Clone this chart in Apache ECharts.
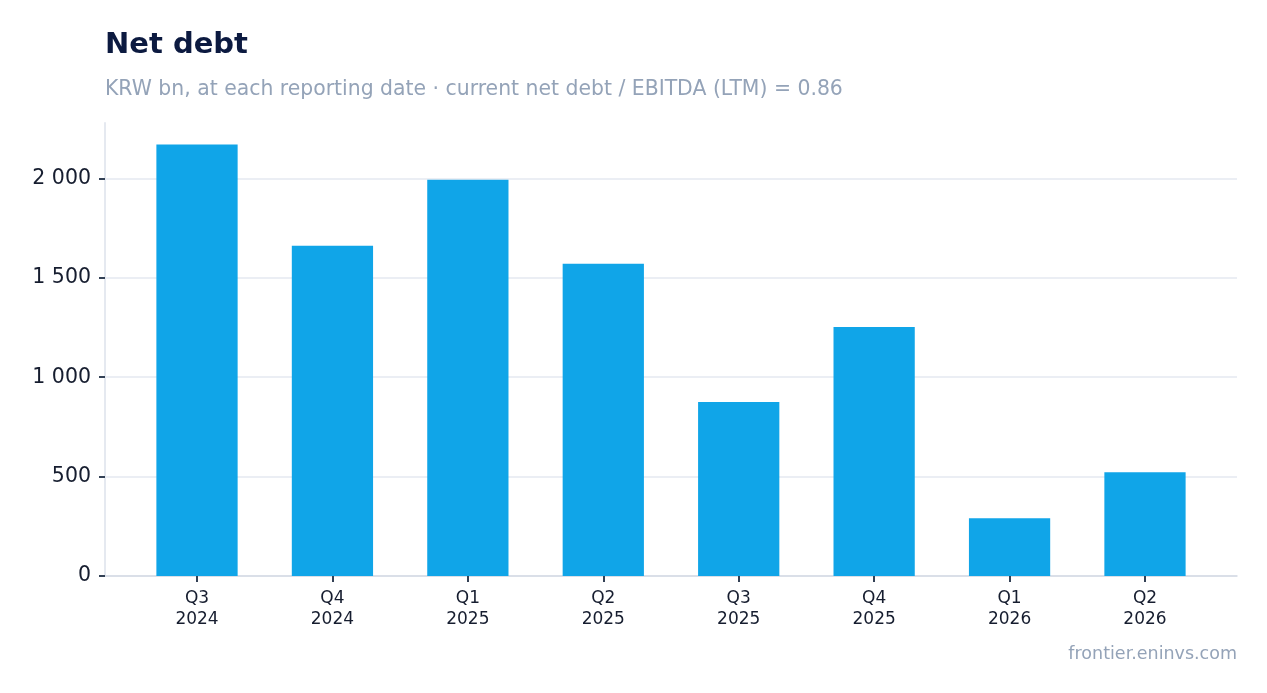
<!DOCTYPE html>
<html lang="en">
<head>
    <meta charset="UTF-8">
    <title>Net debt</title>
    <script src="https://cdn.jsdelivr.net/npm/echarts@6/dist/echarts.min.js"></script>
    <style>
        body, html {
            margin: 0;
            padding: 0;
            width: 100%;
            height: 100%;
            background: #ffffff;
        }
        #chart {
            width: 1267px;
            height: 693px;
        }
    </style>
</head>
<body>
<div id="chart"></div>
<script>
    // quarters and net debt (KRW bn)
    var quarters = ['Q3\n2024', 'Q4\n2024', 'Q1\n2025', 'Q2\n2025', 'Q3\n2025', 'Q4\n2025', 'Q1\n2026', 'Q2\n2026'];
    var netDebt = [2170, 1661, 1993, 1570, 875, 1253, 291, 522];

    var font = 'DejaVu Sans';
    var yMax = Math.max.apply(null, netDebt) * 1.05;
    var chart = echarts.init(document.getElementById('chart'));

    function spaced(v) {
        return String(v).replace(/\B(?=(\d{3})+(?!\d))/g, ' ');
    }

    var option = {
        animation: false,
        textStyle: { fontFamily: font },
        title: [{
            text: 'Net debt',
            left: 100,
            top: 26,
            textStyle: { fontFamily: font, fontSize: 29, fontWeight: 'bold', color: '#0c1a40' }
        }, {
            text: 'KRW bn, at each reporting date · current net debt / EBITDA (LTM) = 0.86',
            left: 100,
            top: 75,
            textStyle: { fontFamily: font, fontSize: 20.4, fontWeight: 'normal', color: '#94a3b8' }
        }, {
            text: 'frontier.eninvs.com',
            right: 25,
            top: 640,
            textStyle: { fontFamily: font, fontSize: 17.5, fontWeight: 'normal', color: '#94a3b8' }
        }],
        // grid 0: full plot frame (y axis, gridlines, x axis line)
        // grid 1: the bars, inset like the reference's padded category range
        grid: [
            { left: 105, right: 30, top: 123, bottom: 117 },
            { left: 129.3, right: 54.3, top: 123, bottom: 117 }
        ],
        xAxis: [{
            gridIndex: 0,
            type: 'value',
            min: 0,
            max: 1,
            axisLine: { show: true, lineStyle: { color: '#d5dae3', width: 1.5 } },
            axisTick: { show: false },
            axisLabel: { show: false },
            splitLine: { show: false }
        }, {
            gridIndex: 1,
            type: 'category',
            data: quarters,
            axisLine: { show: false },
            axisTick: { show: true, alignWithLabel: true, length: 6, lineStyle: { color: '#334155', width: 2 } },
            axisLabel: { fontFamily: font, fontSize: 17, color: '#161d2f', lineHeight: 21, margin: 12 }
        }],
        yAxis: [{
            gridIndex: 0,
            type: 'value',
            min: 0,
            max: yMax,
            interval: 500,
            axisLine: { show: true, lineStyle: { color: '#e5e9f0', width: 2 } },
            axisTick: { show: true, length: 6, lineStyle: { color: '#334155', width: 2 } },
            splitLine: { show: true, showMaxLine: false, lineStyle: { color: '#e5e9f0', width: 1.5 } },
            axisLabel: {
                fontFamily: font,
                fontSize: 20.5,
                color: '#161d2f',
                margin: 14,
                showMaxLabel: false,
                formatter: spaced
            }
        }, {
            gridIndex: 1,
            type: 'value',
            min: 0,
            max: yMax,
            show: false
        }],
        series: [{
            type: 'bar',
            xAxisIndex: 1,
            yAxisIndex: 1,
            data: netDebt,
            barWidth: '60%',
            itemStyle: { color: '#10a5e8' }
        }]
    };

    chart.setOption(option);
</script>
</body>
</html>
